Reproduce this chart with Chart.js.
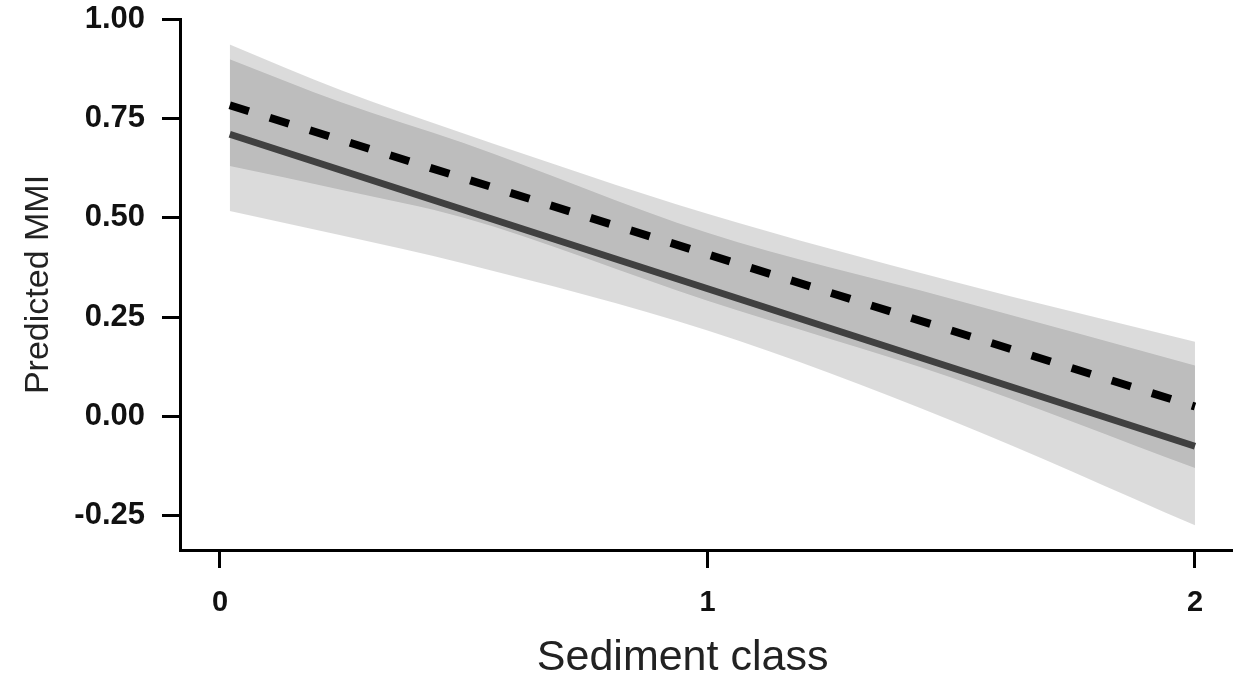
<!DOCTYPE html>
<html>
<head>
<meta charset="utf-8">
<script src="https://cdn.jsdelivr.net/npm/chart.js@4.4.1/dist/chart.umd.min.js"></script>
<style>
html, body { margin: 0; padding: 0; background: #fff; }
#wrap { width: 1233px; height: 686px; }
</style>
</head>
<body>
<div id="wrap"><canvas id="chart"></canvas></div>
<script>
// values
var xTicks = [0, 1, 2];
var yTicks = [-0.25, 0, 0.25, 0.5, 0.75, 1.0];

var lineX = [0.02, 2.0];
var dashedMean = [0.783, 0.025];
var solidMean = [0.71, -0.075];

var bandX = [0.02, 0.25, 0.5, 1.0, 1.5, 2.0];
var dashedUpper = [0.936, 0.82, 0.712, 0.51, 0.341, 0.188];
var dashedLower = [0.63, 0.57, 0.50, 0.291, 0.098, -0.13];
var solidUpper = [0.899, 0.79, 0.688, 0.462, 0.296, 0.128];
var solidLower = [0.517, 0.455, 0.385, 0.216, -0.01, -0.274];

function pts(xs, ys) {
    return xs.map(function (x, i) { return { x: x, y: ys[i] }; });
}

var bandFill = 'rgba(0, 0, 0, 0.14)';
var sans = "'Liberation Sans', Arial, sans-serif";

var ctx = document.getElementById("chart").getContext("2d");

new Chart(ctx, {
    type: 'line',
    data: {
        datasets: [
            { label: 'dashed', data: pts(lineX, dashedMean), borderColor: '#000', borderWidth: 8, borderDash: [20, 22], pointRadius: 0, fill: false },
            { label: 'solid', data: pts(lineX, solidMean), borderColor: '#404040', borderWidth: 7, pointRadius: 0, fill: false },
            { label: 'dashedUpper', data: pts(bandX, dashedUpper), borderWidth: 0, pointRadius: 0, cubicInterpolationMode: 'monotone', fill: false },
            { label: 'dashedLower', data: pts(bandX, dashedLower), borderWidth: 0, pointRadius: 0, cubicInterpolationMode: 'monotone', fill: 2, backgroundColor: bandFill },
            { label: 'solidUpper', data: pts(bandX, solidUpper), borderWidth: 0, pointRadius: 0, cubicInterpolationMode: 'monotone', fill: false },
            { label: 'solidLower', data: pts(bandX, solidLower), borderWidth: 0, pointRadius: 0, cubicInterpolationMode: 'monotone', fill: 4, backgroundColor: bandFill }
        ]
    },
    options: {
        responsive: true,
        maintainAspectRatio: false,
        animation: false,
        layout: { padding: { top: 19, right: 0, bottom: 0, left: 0 } },
        plugins: {
            legend: { display: false },
            tooltip: { enabled: false },
            filler: { propagate: false }
        },
        scales: {
            x: {
                type: 'linear',
                min: -0.082,
                max: 2.078,
                border: { display: true, color: '#000', width: 3 },
                grid: { drawOnChartArea: false, drawTicks: true, tickLength: 18, tickWidth: 3, tickColor: '#000' },
                ticks: {
                    padding: 18,
                    color: '#111',
                    maxRotation: 0,
                    font: { family: "'Liberation Sans Narrow', " + sans, size: 29, weight: 'bold' },
                    callback: function (v) { return v.toFixed(0); }
                },
                afterBuildTicks: function (s) { s.ticks = xTicks.map(function (v) { return { value: v }; }); },
                afterFit: function (s) { s.height = 136; s.paddingLeft = 0; s.paddingRight = 0; },
                title: {
                    display: true,
                    text: 'Sediment class    ',
                    color: '#222',
                    font: { family: sans, size: 43 },
                    padding: { top: 0, bottom: 2 }
                }
            },
            y: {
                type: 'linear',
                min: -0.336,
                max: 1.0,
                border: { display: true, color: '#000', width: 3 },
                grid: { drawOnChartArea: false, drawTicks: true, tickLength: 18, tickWidth: 3, tickColor: '#000' },
                ticks: {
                    padding: 17,
                    color: '#111',
                    font: { family: sans, size: 31, weight: 'bold' },
                    callback: function (v) { return v.toFixed(2); }
                },
                afterBuildTicks: function (s) { s.ticks = yTicks.map(function (v) { return { value: v }; }); },
                afterFit: function (s) { s.width = 180; s.paddingTop = 0; s.paddingBottom = 0; },
                title: {
                    display: true,
                    text: 'Predicted MMI',
                    color: '#222',
                    font: { family: sans, size: 34 },
                    padding: { top: 18, bottom: 0 }
                }
            }
        }
    }
});
</script>
</body>
</html>
